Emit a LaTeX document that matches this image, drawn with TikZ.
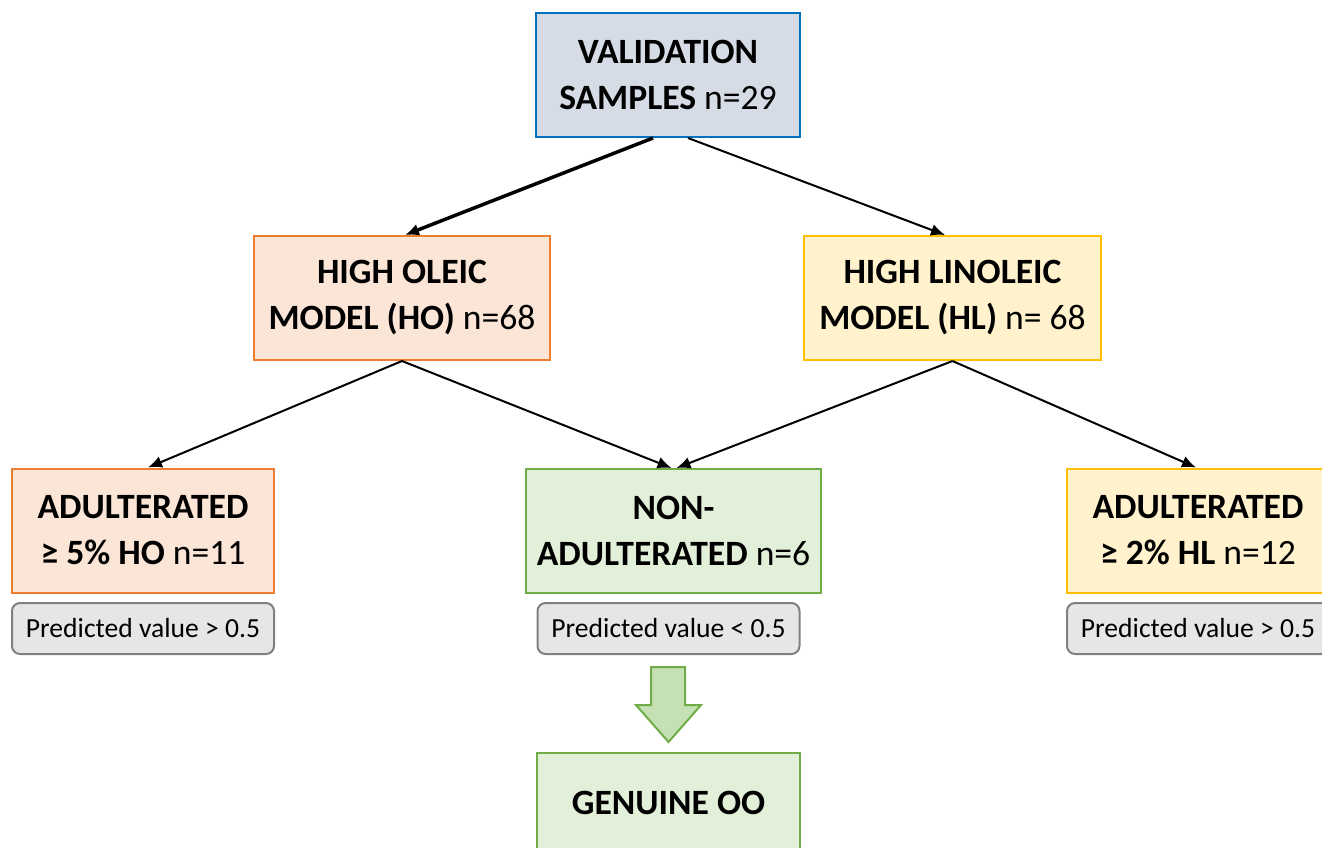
\documentclass[tikz,border=0pt]{standalone}
\usepackage{fontspec}
\setmainfont{Carlito}
\usetikzlibrary{arrows.meta}
\definecolor{boxblue}{RGB}{214,220,229}
\definecolor{lineblue}{RGB}{0,112,192}
\definecolor{boxorange}{RGB}{251,229,214}
\definecolor{lineorange}{RGB}{237,125,49}
\definecolor{boxyellow}{RGB}{255,242,204}
\definecolor{lineyellow}{RGB}{255,192,0}
\definecolor{boxgreen}{RGB}{226,240,217}
\definecolor{linegreen}{RGB}{112,173,71}
\definecolor{arrowgreen}{RGB}{197,224,180}
\definecolor{predgray}{RGB}{231,230,230}
\definecolor{predline}{RGB}{128,128,128}

\begin{document}
\begin{tikzpicture}[x=0.5pt,y=-0.5pt,
  box/.style={draw,line width=1pt,align=center,inner sep=2pt,
    font=\fontsize{17.8}{23}\selectfont,minimum height=62pt},
  pred/.style={draw=predline,fill=predgray,line width=1pt,rounded corners=4pt,
    minimum width=131pt,minimum height=25.5pt,inner sep=1pt,
    font=\fontsize{13.8}{15}\selectfont},
  conn/.style={line width=1pt,-{Latex[length=7pt,width=6pt]}}]
% Fix the page size
\useasboundingbox (0,0) rectangle (1322,847);
\clip (0,0) rectangle (1322,847);
% Top box
\node[box,fill=boxblue,draw=lineblue,minimum width=132pt] (valid) at (668,75)
  {\textbf{VALIDATION}\\\textbf{SAMPLES} n=29};
% Models
\node[box,fill=boxorange,draw=lineorange,minimum width=148pt] (ho) at (402,298)
  {\textbf{HIGH OLEIC}\\\textbf{MODEL (HO)} n=68};
\node[box,fill=boxyellow,draw=lineyellow,minimum width=148.5pt] (hl) at (952.5,298)
  {\textbf{HIGH LINOLEIC}\\\textbf{MODEL (HL)} n= 68};
% Results
\node[box,fill=boxorange,draw=lineorange,minimum width=131pt] (adho) at (143,530.5)
  {\textbf{ADULTERATED}\\\textbf{≥ 5\% HO} n=11};
\node[box,fill=boxgreen,draw=linegreen,minimum width=147.5pt] (nonad) at (673.5,531)
  {\textbf{NON-}\\\textbf{ADULTERATED} n=6};
\node[box,fill=boxyellow,draw=lineyellow,minimum width=131pt] (adhl) at (1198,530.5)
  {\textbf{ADULTERATED}\\\textbf{≥ 2\% HL} n=12};
% Predicted values
\node[pred] (predho) at (143,628.5) {Predicted value > 0.5};
\node[pred] (prednon) at (668.5,628.5) {Predicted value < 0.5};
\node[pred] (predhl) at (1198,628.5) {Predicted value > 0.5};
% Block arrow
\draw[draw=linegreen,fill=arrowgreen,line width=1pt]
  (651,667) -- (685,667) -- (685,705) -- (701,705) -- (668.5,742)
  -- (636,705) -- (651,705) -- cycle;
% Final box
\node[box,fill=boxgreen,draw=linegreen,minimum width=131.5pt,minimum height=50pt] (genuine) at (668.5,803)
  {\textbf{GENUINE OO}};
% Connectors
\draw[conn,line width=1.75pt] ([xshift=-7.5pt]valid.south) -- ([xshift=1.5pt]ho.north);
\draw[conn] ([xshift=10pt]valid.south) -- ([xshift=-3.75pt]hl.north);
\draw[conn] (ho.south) -- ([xshift=2.5pt]adho.north);
\draw[conn] (ho.south) -- ([xshift=-1pt]nonad.north);
\draw[conn] (hl.south) -- ([xshift=1.5pt]nonad.north);
\draw[conn] (hl.south) -- ([xshift=-1pt]adhl.north);
\end{tikzpicture}
\end{document}
